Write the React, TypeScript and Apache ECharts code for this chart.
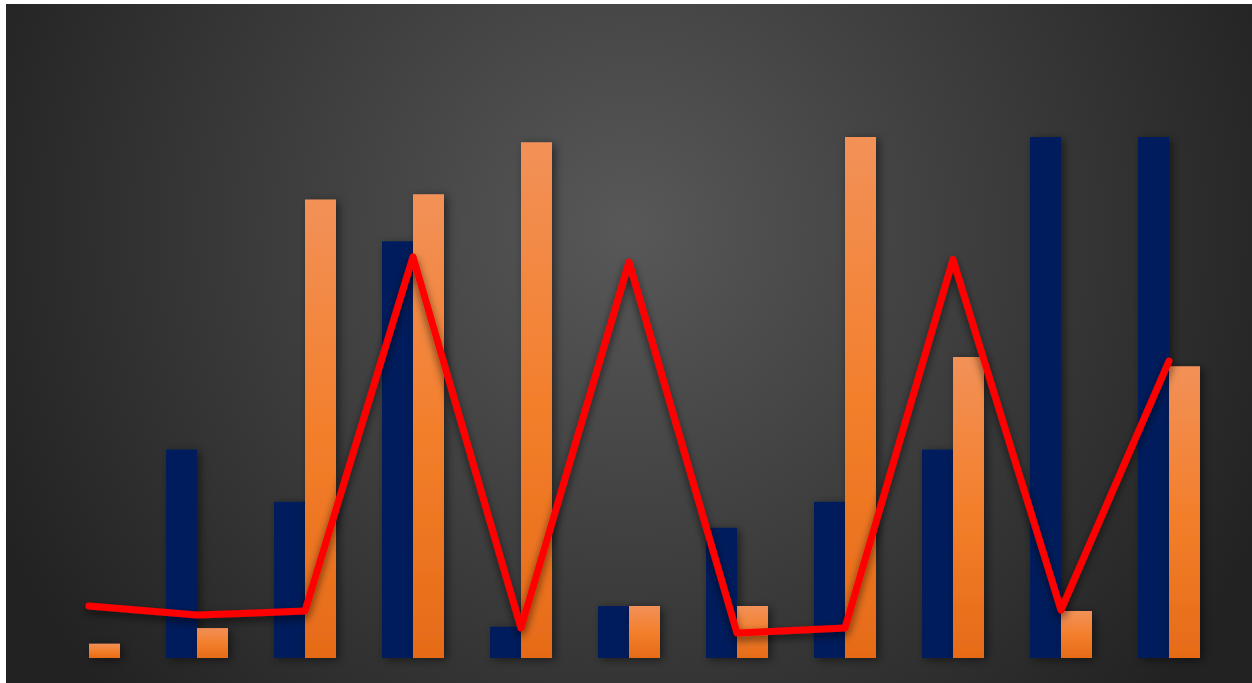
import React, { useEffect, useRef } from "react";
import * as echarts from "echarts";

const categories = ["1", "2", "3", "4", "5", "6", "7", "8", "9", "10", "11"];
const navyValues = [0, 8, 6, 16, 1.2, 2, 5, 6, 8, 20, 20];
const orangeValues = [0.55, 1.15, 17.6, 17.8, 19.8, 2, 2, 20, 11.55, 1.8, 11.2];
const lineValues = [2.0, 1.65, 1.8, 15.4, 1.15, 15.2, 0.96, 1.15, 15.3, 1.84, 11.4];

export default function App() {
  const ref = useRef<HTMLDivElement>(null);
  useEffect(() => {
    if (!ref.current) return;
    const chart = echarts.init(ref.current, null, { renderer: "svg" });
    chart.setOption({
      animation: false,
      backgroundColor: new echarts.graphic.RadialGradient(
        623,
        225,
        700,
        [
          { offset: 0, color: "#585858" },
          { offset: 1, color: "#222222" },
        ],
        true
      ),
      grid: { left: 29, right: 29, top: 133, bottom: 25 },
      xAxis: {
        type: "category",
        data: categories,
        show: false,
      },
      yAxis: {
        type: "value",
        min: 0,
        max: 20,
        show: false,
      },
      series: [
        {
          type: "bar",
          data: navyValues,
          barWidth: 31,
          barGap: "0%",
          itemStyle: {
            color: "#001f5c",
            shadowColor: "rgba(0,0,0,0.5)",
            shadowBlur: 10,
            shadowOffsetX: 3,
            shadowOffsetY: 2,
          },
        },
        {
          type: "bar",
          data: orangeValues,
          barWidth: 31,
          barGap: "0%",
          itemStyle: {
            color: new echarts.graphic.LinearGradient(0, 0, 0, 1, [
              { offset: 0, color: "#f29158" },
              { offset: 0.5, color: "#f37f2c" },
              { offset: 1, color: "#e66b18" },
            ]),
            shadowColor: "rgba(0,0,0,0.5)",
            shadowBlur: 10,
            shadowOffsetX: 3,
            shadowOffsetY: 2,
          },
        },
        {
          type: "line",
          data: lineValues,
          symbol: "none",
          z: 5,
          lineStyle: {
            color: "#ff0000",
            width: 7,
            cap: "round",
            join: "round",
            shadowColor: "rgba(0,0,0,0.6)",
            shadowBlur: 8,
            shadowOffsetY: 4,
          },
        },
      ],
    });
    return () => chart.dispose();
  }, []);
  return (
    <div
      ref={ref}
      style={{ position: "absolute", left: 6, top: 4, width: 1246, height: 679 }}
    />
  );
}
